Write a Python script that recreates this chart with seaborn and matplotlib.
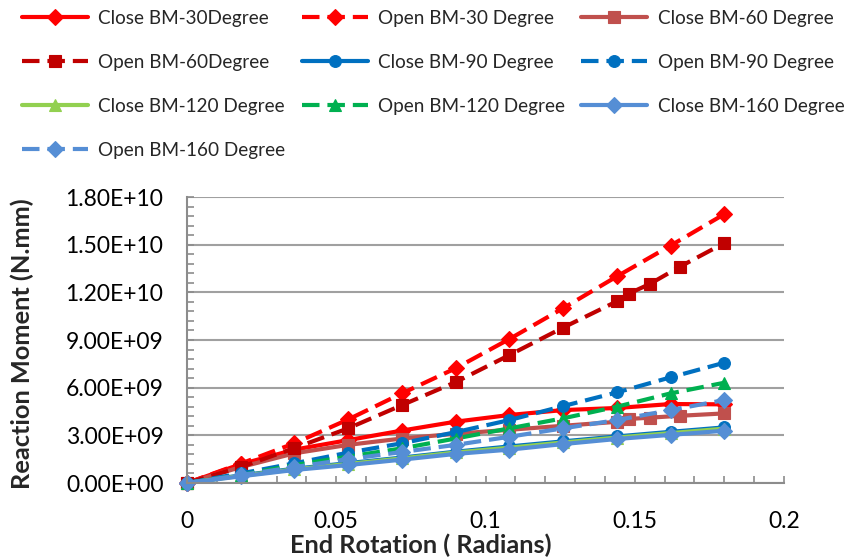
import numpy as np
import pandas as pd
import matplotlib
matplotlib.use("Agg")
import matplotlib.pyplot as plt
from matplotlib.ticker import MultipleLocator, FuncFormatter
import seaborn as sns

# End rotation (radians) sampled for most series
rot = [0, 0.018, 0.036, 0.054, 0.072, 0.09, 0.108, 0.126, 0.144, 0.162, 0.18]
# BM-60 models were solved with extra sub-steps near the end
rot_60 = [0, 0.018, 0.036, 0.054, 0.072, 0.09, 0.108, 0.126, 0.144, 0.148, 0.155, 0.165, 0.18]

# Reaction moments, in units of 1e9 N.mm
close_30 = [0, 1.18, 2.10, 2.70, 3.30, 3.86, 4.28, 4.59, 4.72, 4.97, 4.95]
open_30 = [0, 1.22, 2.50, 4.00, 5.64, 7.22, 9.06, 11.0, 13.0, 14.94, 16.92]
close_60 = [0, 1.00, 1.87, 2.40, 2.80, 3.10, 3.35, 3.60, 3.85, 4.03, 4.11, 4.23, 4.38]
open_60 = [0, 1.00, 2.20, 3.44, 4.90, 6.35, 8.05, 9.78, 11.43, 11.92, 12.52, 13.60, 15.10]
close_90 = [0, 0.48, 0.90, 1.25, 1.60, 1.97, 2.30, 2.62, 2.93, 3.22, 3.50]
open_90 = [0, 0.60, 1.24, 1.91, 2.50, 3.20, 3.96, 4.84, 5.70, 6.65, 7.57]
close_120 = [0, 0.45, 0.86, 1.20, 1.55, 1.92, 2.22, 2.55, 2.86, 3.14, 3.42]
open_120 = [0, 0.50, 1.13, 1.66, 2.18, 2.80, 3.44, 4.07, 4.80, 5.64, 6.31]
close_160 = [0, 0.42, 0.82, 1.13, 1.47, 1.83, 2.10, 2.45, 2.77, 3.03, 3.29]
open_160 = [0, 0.50, 1.00, 1.50, 1.95, 2.40, 2.91, 3.44, 3.96, 4.59, 5.22]

labels = ["Close BM-30Degree", "Open BM-30 Degree", "Close BM-60 Degree",
          "Open BM-60Degree", "Close BM-90 Degree", "Open BM-90 Degree",
          "Close BM-120 Degree", "Open BM-120 Degree", "Close BM-160 Degree",
          "Open BM-160 Degree"]

sns.set_theme(style="white")
plt.rcParams["font.family"] = ["Lato", "DejaVu Sans"]

DASH = (0, (4.2, 1.9))
series = [
    # (x, y, colour, marker, marker size, linestyle)
    (rot, close_30, "#FF0000", "D", 8.5, "-"),
    (rot, open_30, "#FF0000", "D", 8.5, DASH),
    (rot_60, close_60, "#C0504D", "s", 8.5, "-"),
    (rot_60, open_60, "#C00000", "s", 8.5, DASH),
    (rot, close_90, "#0070C0", "o", 8.5, "-"),
    (rot, open_90, "#0070C0", "o", 8.5, DASH),
    (rot, close_120, "#92D050", "^", 8.5, "-"),
    (rot, open_120, "#00B050", "^", 8.5, DASH),
    (rot, close_160, "#558ED5", "D", 8.5, "-"),
    (rot, open_160, "#558ED5", "D", 8.5, DASH),
]

fig = plt.figure(figsize=(8.44, 5.6), dpi=100)
ax = fig.add_axes([187 / 844, 1 - 483 / 560, (784 - 187) / 844, (483 - 197) / 560])

handles = []
for (xs, ys, col, mk, ms, ls), lab in zip(series, labels):
    df = pd.DataFrame({"rotation": xs, "moment": np.array(ys) * 1e9})
    sns.lineplot(data=df, x="rotation", y="moment", ax=ax, color=col,
                 marker=mk, markersize=ms,
                 markeredgecolor=col, markeredgewidth=0.8,
                 linestyle=ls, linewidth=3.0, legend=False, label=lab,
                 clip_on=False)
    handles.append(ax.lines[-1])

ax.set_xlim(0, 0.2)
ax.set_ylim(0, 1.8e10)
ax.xaxis.set_major_locator(MultipleLocator(0.05))
ax.xaxis.set_minor_locator(MultipleLocator(0.01))
ax.yaxis.set_major_locator(MultipleLocator(3e9))
ax.yaxis.set_minor_locator(MultipleLocator(6e8))
ax.xaxis.set_major_formatter(FuncFormatter(lambda v, p: f"{v:g}" if abs(v) > 1e-12 else "0"))
ax.yaxis.set_major_formatter(FuncFormatter(lambda v, p: f"{v:.2E}"))

ax.grid(axis="y", which="major", color="#A0A0A0", linewidth=1.5)
ax.grid(axis="x", visible=False)
ax.set_axisbelow(True)
for side in ["top", "right"]:
    ax.spines[side].set_visible(False)
for side in ["left", "bottom"]:
    ax.spines[side].set_color("#8C8C8C")
    ax.spines[side].set_linewidth(1.5)

ax.tick_params(which="both", direction="in", length=5, width=1.2, color="#8C8C8C",
               labelsize=16.5, labelcolor="black")
ax.tick_params(axis="y", which="both", left=True, pad=17)
ax.tick_params(axis="x", which="both", bottom=True, pad=20)

ax.set_xlabel("")
ax.set_ylabel("")
fig.text(421 / 844, 1 - 545 / 560, "End Rotation ( Radians)", ha="center", va="center",
         fontsize=18.3, fontweight="bold")
fig.text(22 / 844, 1 - 344 / 560, "Reaction Moment (N.mm)", ha="center", va="center",
         rotation=90, fontsize=18.3, fontweight="bold")

# Row-major legend order in three columns
order = [0, 3, 6, 9, 1, 4, 7, 2, 5, 8]
fig.legend([handles[i] for i in order], [labels[i] for i in order],
           loc="upper left", bbox_to_anchor=(22 / 844, 1 - 10 / 560), ncol=3,
           frameon=False, fontsize=13.6, handlelength=3.5, handletextpad=0.55,
           columnspacing=0.85, labelspacing=1.43, borderpad=0, borderaxespad=0)

fig.savefig("out.png", dpi=100)
